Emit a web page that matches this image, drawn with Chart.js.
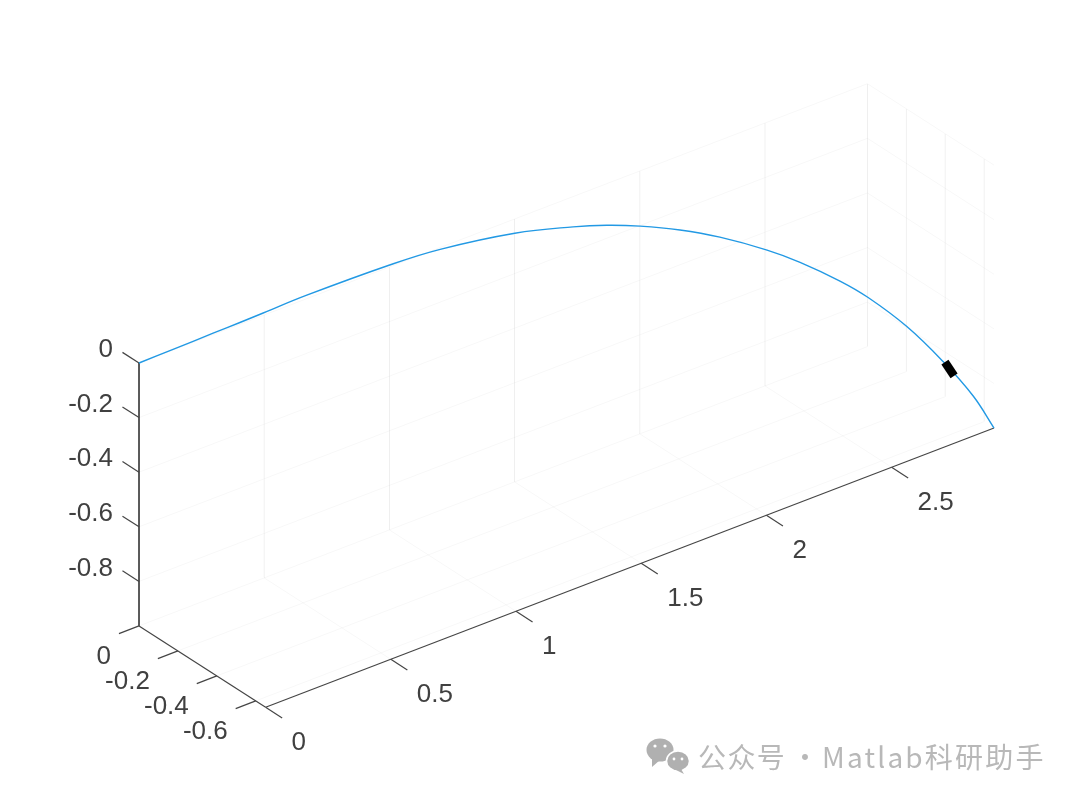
<!DOCTYPE html>
<html>
<head>
<meta charset="utf-8">
<title>3D curve</title>
<script src="https://cdn.jsdelivr.net/npm/chart.js@4/dist/chart.umd.js"></script>
<style>
  html, body { margin: 0; padding: 0; background: #fff; }
  canvas { display: block; }
</style>
</head>
<body>
<canvas id="chart-line" width="1080" height="800"></canvas>
<script>
// Curve (axis units)
const curveX = [0, 0.136, 0.296, 0.403, 0.496, 0.67, 1.001, 1.199, 1.479, 1.687, 1.803, 1.914, 2.044, 2.169, 2.311, 2.407, 2.519, 2.595, 2.696, 2.787, 2.86, 2.909];
const curveY = [0, 0, 0, 0, 0, 0, 0, -0.005, -0.028, -0.06, -0.084, -0.112, -0.15, -0.194, -0.254, -0.3, -0.361, -0.408, -0.477, -0.546, -0.607, -0.651];
const curveZ = [0, 0.002, 0.005, 0.0066, 0.0088, 0.0128, 0.007, -0.003, -0.032, -0.067, -0.091, -0.1205, -0.1629, -0.213, -0.2827, -0.3401, -0.4202, -0.4857, -0.596, -0.7245, -0.8486, -0.963];

// Black block sitting on the curve
const blockX = [2.7975, 2.8083];
const blockY = [-0.5542, -0.563];
const blockZ = [-0.7399, -0.7637];

const xTicks = [0, 0.5, 1, 1.5, 2, 2.5];
const yTicks = [0, -0.2, -0.4, -0.6];
const zTicks = [0, -0.2, -0.4, -0.6, -0.8];
const xTickLabels = ['0', '0.5', '1', '1.5', '2', '2.5'];
const yTickLabels = ['0', '-0.2', '-0.4', '-0.6'];
const zTickLabels = ['0', '-0.2', '-0.4', '-0.6', '-0.8'];

const xMax = 2.909;
const yMin = -0.651;
const zMin = -0.963;

// 3D view: where (0,0,0) lands and what one unit on each axis does on screen
const project = (x, y, z) => ({
  x: 139 + 250.4 * x - 194.5 * y,
  y: 363 - 96 * x - 125 * y - 273 * z,
});

const segment = (a, b, color, width) => ({
  data: [project(...a), project(...b)],
  borderColor: color,
  borderWidth: width,
  pointRadius: 0,
  tension: 0,
  showLine: true,
});

const gridFaint = 'rgba(38,38,38,0.03)';
const gridVert = 'rgba(38,38,38,0.028)';
const axisColor = '#454545';
const tickLen = 0.085;

const datasets = [];

// back wall, right wall and floor grid
xTicks.slice(1).forEach((x) => {
  datasets.push(segment([x, 0, 0], [x, 0, zMin], gridVert, 1));
  datasets.push(segment([x, 0, zMin], [x, yMin, zMin], gridFaint, 1));
});
yTicks.forEach((y) => {
  datasets.push(segment([xMax, y, 0], [xMax, y, zMin], gridVert, 1));
  datasets.push(segment([0, y, zMin], [xMax, y, zMin], gridFaint, 1));
});
zTicks.forEach((z) => {
  datasets.push(segment([0, 0, z], [xMax, 0, z], gridFaint, 1));
  datasets.push(segment([xMax, 0, z], [xMax, yMin, z], gridFaint, 1));
});

// axes
datasets.push(segment([0, 0, 0], [0, 0, zMin], axisColor, 1));
datasets.push(segment([0, 0, zMin], [0, yMin, zMin], axisColor, 1.2));
datasets.push(segment([0, yMin, zMin], [xMax, yMin, zMin], axisColor, 1.2));

// tick marks
zTicks.forEach((z) => datasets.push(segment([0, 0, z], [0, tickLen, z], axisColor, 1.2)));
yTicks.forEach((y) => datasets.push(segment([0, y, zMin], [-0.08, y, zMin], axisColor, 1.2)));
xTicks.forEach((x) => datasets.push(segment([x, yMin, zMin], [x, yMin - tickLen, zMin], axisColor, 1.2)));

// the curve, lower order draws on top
datasets.push({
  data: curveX.map((x, i) => project(x, curveY[i], curveZ[i])),
  borderColor: '#2299e4',
  borderWidth: 1.4,
  pointRadius: 0,
  tension: 0.4,
  showLine: true,
  order: -1,
});

datasets.push({
  data: blockX.map((x, i) => project(x, blockY[i], blockZ[i])),
  borderColor: '#000',
  borderWidth: 8.5,
  borderCapStyle: 'square',
  pointRadius: 0,
  showLine: true,
  order: -2,
});

const labelFont = '26px "Liberation Sans", Arial, sans-serif';

const tickText = {
  id: 'tickText',
  afterDraw(chart) {
    const { ctx, scales } = chart;
    const px = (p) => ({ x: scales.x.getPixelForValue(p.x), y: scales.y.getPixelForValue(p.y) });
    ctx.save();
    ctx.font = labelFont;
    ctx.fillStyle = '#404040';
    ctx.textBaseline = 'middle';

    ctx.textAlign = 'right';
    zTicks.forEach((z, i) => {
      const p = px(project(0, 0, z));
      ctx.fillText(zTickLabels[i], p.x - 26, p.y - 13);
    });
    yTicks.forEach((y, i) => {
      const p = px(project(0, y, zMin));
      ctx.fillText(yTickLabels[i], p.x - 28, p.y + 31);
    });
    ctx.textAlign = 'left';
    xTicks.forEach((x, i) => {
      const p = px(project(x, yMin, zMin));
      ctx.fillText(xTickLabels[i], p.x + 26, p.y + 36);
    });

    // watermark
    ctx.fillStyle = '#b8b8b8';
    ctx.font = '28px "Noto Sans CJK SC", sans-serif';
    ctx.letterSpacing = '1.4px';
    ctx.fillText('公众号', 698, 757);
    ctx.fillText('·', 791, 757);
    ctx.letterSpacing = '2.2px';
    ctx.fillText('Matlab科研助手', 822, 757);
    ctx.letterSpacing = '0px';

    // wechat icon
    ctx.fillStyle = '#b0b0b0';
    ctx.beginPath();
    ctx.ellipse(660, 750, 13.5, 11.5, 0, 0, Math.PI * 2);
    ctx.fill();
    ctx.beginPath();
    ctx.moveTo(652, 758); ctx.lineTo(652, 767); ctx.lineTo(660, 760);
    ctx.fill();
    ctx.strokeStyle = '#fff';
    ctx.lineWidth = 1.5;
    ctx.beginPath();
    ctx.ellipse(678, 761, 11.5, 10, 0, 0, Math.PI * 2);
    ctx.fill();
    ctx.stroke();
    ctx.beginPath();
    ctx.moveTo(681, 769); ctx.lineTo(684, 774); ctx.lineTo(676, 770);
    ctx.fill();
    ctx.fillStyle = '#fff';
    [[655, 746, 1.6], [665, 746, 1.6], [674, 759, 1.4], [682, 759, 1.4]].forEach(([x, y, r]) => {
      ctx.beginPath();
      ctx.arc(x, y, r, 0, Math.PI * 2);
      ctx.fill();
    });
    ctx.restore();
  },
};

new Chart(document.getElementById('chart-line').getContext('2d'), {
  type: 'scatter',
  data: { datasets },
  plugins: [tickText],
  options: {
    responsive: false,
    animation: false,
    layout: { padding: 0 },
    plugins: { legend: { display: false }, tooltip: { enabled: false }, title: { display: false } },
    scales: {
      x: { type: 'linear', display: false, min: 0, max: 1080 },
      y: { type: 'linear', display: false, min: 0, max: 800, reverse: true },
    },
  },
});
</script>
</body>
</html>
